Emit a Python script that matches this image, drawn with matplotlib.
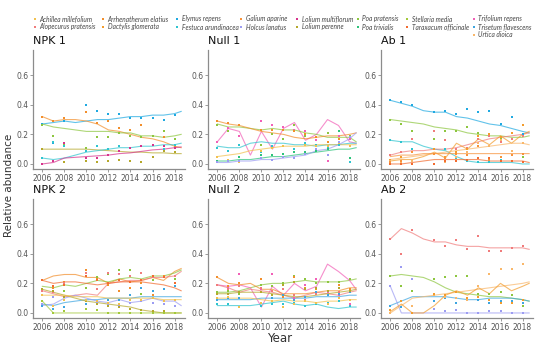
import matplotlib.pyplot as plt

# species and colours (legend order)
species = ["Achillea millefolium", "Alopecurus pratensis", "Arrhenatherum elatius",
           "Dactylis glomerata", "Elymus repens", "Festuca arundinacea", "Galium aparine",
           "Holcus lanatus", "Lolium multiflorum", "Lolium perenne", "Poa pratensis",
           "Poa trivialis", "Stellaria media", "Taraxacum officinale", "Trifolium repens",
           "Trisetum flavescens", "Urtica dioica"]
colours = ["#F2C14E", "#F07C7C", "#F28E2B", "#F39C2C", "#1FA9E1", "#2EC4CF", "#F7923A",
           "#9C9CF2", "#D6338C", "#B5A82B", "#8DC63F", "#2DC37A", "#A3C93A", "#F26B2F",
           "#F25FB7", "#3DA5E0", "#F9B76A"]
col = dict(zip(species, colours))

years_pts = [2006, 2007, 2008, 2010, 2011, 2012, 2013, 2014, 2015, 2016, 2017, 2018]
years_fit = [2006, 2007, 2008, 2009, 2010, 2011, 2012, 2013, 2014, 2015, 2016, 2017, 2018, 2018.6]

# ---- NPK 1
npk1_fit = {
    "Elymus repens": [.27, .28, .29, .28, .29, .30, .30, .31, .32, .32, .33, .33, .34, .355],
    "Arrhenatherum elatius": [.32, .29, .30, .30, .29, .27, .23, .22, .20, .18, .17, .15, .12, .11],
    "Poa pratensis": [.27, .25, .24, .23, .22, .22, .22, .21, .21, .19, .19, .18, .19, .20],
    "Lolium perenne": [.10, .10, .10, .10, .10, .095, .09, .085, .08, .08, .075, .075, .07, .07],
    "Festuca arundinacea": [.04, .03, .04, .06, .08, .09, .10, .11, .11, .12, .12, .13, .13, .14],
    "Lolium multiflorum": [.00, .01, .04, .045, .05, .055, .06, .07, .075, .085, .095, .10, .11, .115],
}
npk1_pts = {
    "Elymus repens": [.27, .14, .29, .40, .36, .34, .34, .31, .31, .31, .30, .33],
    "Arrhenatherum elatius": [.32, .29, .31, .35, .28, .29, .24, .23, .26, .19, .18, .12],
    "Poa pratensis": [.26, .19, .13, .11, .18, .18, .21, .19, .18, .19, .22, .17],
    "Lolium perenne": [.10, .02, .01, .02, .01, .02, .03, .02, .01, .05, .09, .08],
    "Festuca arundinacea": [.04, .15, .12, .09, .12, .10, .12, .11, .12, .13, .10, .13],
    "Lolium multiflorum": [.00, .02, .14, .04, .04, .06, .09, .11, .12, .13, .12, .11],
}

# ---- Null 1
null1_fit = {
    "Trifolium repens": [.15, .24, .22, .06, .22, .10, .24, .28, .16, .20, .30, .26, .15, .14],
    "Poa pratensis": [.27, .25, .25, .24, .23, .24, .23, .23, .21, .20, .18, .18, .18, .15],
    "Arrhenatherum elatius": [.29, .27, .26, .24, .22, .21, .20, .18, .17, .18, .19, .19, .20, .21],
    "Festuca arundinacea": [.12, .11, .11, .14, .15, .14, .14, .13, .13, .12, .13, .13, .14, .14],
    "Achillea millefolium": [.05, .06, .07, .09, .10, .11, .12, .12, .12, .13, .13, .13, .13, .13],
    "Poa trivialis": [.02, .02, .03, .03, .04, .05, .05, .06, .07, .08, .09, .10, .10, .11],
    "Holcus lanatus": [.01, .01, .02, .02, .03, .03, .04, .05, .06, .09, .10, .13, .17, .21],
}
null1_pts = {
    "Trifolium repens": [.15, .24, .19, .29, .26, .25, .23, .22, .16, .02, .19, .17],
    "Poa pratensis": [.26, .22, .26, .13, .20, .17, .26, .19, .18, .21, .22, .19],
    "Arrhenatherum elatius": [.29, .28, .26, .23, .23, .23, .22, .20, .18, .15, .17, .18],
    "Festuca arundinacea": [.11, .09, .13, .08, .12, .12, .10, .14, .13, .11, .13, .01],
    "Achillea millefolium": [.05, .03, .01, .09, .11, .12, .08, .13, .12, .12, .14, .12],
    "Poa trivialis": [.02, .02, .05, .06, .06, .07, .08, .08, .09, .10, .22, .04],
    "Holcus lanatus": [.01, .02, .02, .04, .03, .05, .04, .07, .10, .06, .15, .18],
}

# ---- Ab 1
ab1_fit = {
    "Elymus repens": [.43, .41, .39, .36, .35, .35, .32, .31, .29, .27, .26, .24, .22, .21],
    "Poa pratensis": [.30, .29, .28, .27, .25, .24, .23, .21, .20, .19, .19, .18, .18, .19],
    "Festuca arundinacea": [.16, .15, .15, .12, .10, .09, .05, .02, .01, .01, .01, .01, .00, .00],
    "Alopecurus pratensis": [.06, .08, .09, .09, .10, .10, .11, .13, .15, .17, .18, .19, .20, .21],
    "Dactylis glomerata": [.02, .03, .03, .05, .08, .04, .14, .10, .17, .13, .19, .14, .20, .22],
    "Urtica dioica": [.03, .04, .05, .06, .07, .08, .09, .10, .11, .12, .13, .14, .14, .13],
    "Galium aparine": [.05, .06, .06, .07, .07, .07, .07, .07, .07, .07, .07, .07, .07, .07],
    "Taraxacum officinale": [.00, .00, .01, .02, .03, .03, .03, .03, .03, .02, .02, .02, .02, .01],
}
ab1_pts = {
    "Elymus repens": [.43, .42, .40, .35, .36, .34, .37, .35, .36, .27, .32, .20],
    "Poa pratensis": [.30, .27, .22, .17, .22, .22, .25, .21, .19, .17, .17, .05],
    "Festuca arundinacea": [.16, .15, .10, .10, .10, .04, .02, .01, .01, .03, .02, .01],
    "Alopecurus pratensis": [.06, .08, .17, .22, .16, .10, .11, .17, .19, .15, .17, .19],
    "Dactylis glomerata": [.03, .05, .00, .10, .05, .08, .10, .19, .20, .18, .21, .26],
    "Urtica dioica": [.02, .01, .02, .00, .01, .05, .08, .14, .12, .16, .09, .14],
    "Galium aparine": [.01, .02, .08, .07, .04, .07, .06, .12, .03, .05, .06, .07],
    "Taraxacum officinale": [.00, .00, .00, .00, .02, .02, .03, .04, .04, .02, .02, .01],
}

# ---- NPK 2
npk2_fit = {
    "Arrhenatherum elatius": [.22, .25, .26, .26, .24, .24, .20, .23, .21, .22, .24, .22, .28, .30],
    "Poa pratensis": [.18, .17, .19, .18, .20, .22, .21, .23, .24, .23, .25, .25, .27, .29],
    "Alopecurus pratensis": [.15, .13, .11, .12, .13, .12, .20, .21, .22, .22, .24, .24, .25, .28],
    "Taraxacum officinale": [.22, .20, .21, .21, .20, .19, .20, .21, .21, .21, .20, .19, .17, .15],
    "Trisetum flavescens": [.06, .05, .07, .08, .09, .09, .10, .10, .10, .11, .11, .11, .11, .11],
    "Holcus lanatus": [.05, .06, .10, .12, .10, .08, .07, .09, .07, .08, .10, .08, .08, .05],
    "Lolium perenne": [.16, .14, .12, .10, .08, .07, .06, .05, .04, .02, .01, .00, .00, .00],
    "Achillea millefolium": [.12, .12, .12, .11, .11, .11, .10, .10, .10, .10, .10, .09, .09, .09],
    "Stellaria media": [.08, .00, .00, .00, .00, .00, .00, .00, .00, .00, .00, .00, .00, .00],
}
npk2_pts = {
    "Arrhenatherum elatius": [.22, .17, .21, .29, .23, .19, .15, .17, .20, .12, .25, .20],
    "Poa pratensis": [.16, .18, .15, .17, .24, .26, .29, .29, .13, .22, .24, .23],
    "Alopecurus pratensis": [.15, .14, .20, .27, .16, .27, .26, .25, .27, .24, .16, .25],
    "Taraxacum officinale": [.22, .18, .19, .25, .22, .20, .22, .21, .22, .25, .24, .20],
    "Trisetum flavescens": [.05, .03, .04, .06, .08, .09, .09, .12, .17, .15, .16, .18],
    "Holcus lanatus": [.06, .11, .11, .08, .07, .06, .05, .07, .08, .07, .06, .05],
    "Lolium perenne": [.16, .15, .11, .08, .06, .05, .04, .03, .02, .01, .01, .00],
    "Achillea millefolium": [.12, .05, .09, .09, .08, .07, .06, .09, .09, .10, .08, .09],
    "Stellaria media": [.08, .00, .01, .03, .02, .00, .00, .00, .00, .00, .00, .00],
}

# ---- Null 2
null2_fit = {
    "Poa pratensis": [.14, .14, .15, .17, .19, .20, .20, .21, .22, .21, .21, .21, .22, .23],
    "Trifolium repens": [.19, .18, .19, .17, .04, .18, .12, .20, .15, .18, .33, .28, .22, .16],
    "Arrhenatherum elatius": [.24, .20, .19, .20, .16, .16, .13, .13, .13, .14, .15, .15, .17, .17],
    "Alopecurus pratensis": [.19, .17, .14, .16, .15, .14, .12, .10, .12, .14, .13, .12, .14, .15],
    "Trisetum flavescens": [.09, .09, .09, .09, .10, .10, .10, .10, .10, .11, .11, .11, .12, .12],
    "Festuca arundinacea": [.05, .05, .05, .05, .06, .07, .08, .06, .05, .06, .04, .03, .04, .04],
    "Achillea millefolium": [.10, .10, .10, .10, .09, .08, .09, .08, .08, .07, .08, .08, .09, .09],
    "Lolium perenne": [.13, .13, .14, .14, .14, .13, .12, .11, .11, .12, .13, .14, .15, .16],
}
null2_pts = {
    "Poa pratensis": [.14, .15, .13, .19, .18, .20, .25, .23, .20, .21, .21, .23],
    "Trifolium repens": [.19, .17, .26, .16, .26, .12, .10, .19, .23, .14, .12, .06],
    "Arrhenatherum elatius": [.24, .18, .20, .23, .15, .11, .24, .17, .16, .15, .19, .16],
    "Alopecurus pratensis": [.19, .16, .18, .17, .15, .16, .12, .09, .13, .12, .14, .15],
    "Trisetum flavescens": [.09, .10, .10, .07, .10, .12, .09, .11, .14, .12, .13, .14],
    "Festuca arundinacea": [.06, .06, .04, .05, .06, .06, .07, .05, .06, .07, .08, .05],
    "Achillea millefolium": [.10, .11, .04, .07, .08, .04, .06, .08, .07, .06, .10, .09],
    "Lolium perenne": [.13, .13, .14, .14, .12, .19, .21, .16, .17, .15, .17, .15],
}

# ---- Ab 2
ab2_fit = {
    "Alopecurus pratensis": [.50, .57, .54, .50, .48, .48, .46, .45, .45, .44, .44, .44, .44, .43],
    "Poa pratensis": [.25, .26, .25, .24, .21, .17, .14, .13, .12, .11, .11, .10, .09, .08],
    "Trisetum flavescens": [.05, .08, .11, .11, .11, .11, .10, .09, .09, .10, .10, .10, .09, .08],
    "Holcus lanatus": [.18, .00, .00, .00, .00, .00, .00, .00, .00, .00, .00, .00, .00, .00],
    "Urtica dioica": [.00, .05, .10, .11, .12, .13, .14, .15, .16, .17, .18, .19, .20, .21],
    "Dactylis glomerata": [.01, .06, .00, .00, .05, .12, .15, .12, .17, .13, .20, .15, .18, .20],
}
ab2_pts = {
    "Alopecurus pratensis": [.50, .40, .56, .49, .45, .49, .43, .52, .42, .42, .44, .45],
    "Poa pratensis": [.25, .18, .15, .23, .24, .25, .25, .13, .13, .14, .12, .05],
    "Trisetum flavescens": [.05, .04, .00, .08, .10, .07, .09, .09, .07, .08, .08, .07],
    "Holcus lanatus": [.18, .31, .23, .03, .01, .02, .00, .00, .01, .01, .00, .00],
    "Urtica dioica": [.00, .08, .05, .12, .11, .10, .09, .18, .26, .30, .30, .33],
    "Dactylis glomerata": [.02, .08, .00, .13, .12, .14, .10, .11, .09, .07, .07, .09],
}

panels = [
    ("NPK 1", npk1_fit, npk1_pts), ("Null 1", null1_fit, null1_pts), ("Ab 1", ab1_fit, ab1_pts),
    ("NPK 2", npk2_fit, npk2_pts), ("Null 2", null2_fit, null2_pts), ("Ab 2", ab2_fit, ab2_pts),
]

W, H = 550, 346
fig = plt.figure(figsize=(W / 100, H / 100), dpi=100)

lefts = [33, 208, 381]
tops = [50, 199]
aw, ah = 152, 119

for i, (title, fit, pts) in enumerate(panels):
    r, c = divmod(i, 3)
    ax = fig.add_axes([lefts[c] / W, 1 - (tops[r] + ah) / H, aw / W, ah / H])
    for sp, vals in fit.items():
        ax.plot(years_fit, vals, color=col[sp], lw=0.8, alpha=0.7)
    for sp, vals in pts.items():
        ax.scatter(years_pts, vals, s=3, marker="s", color=col[sp], lw=0, zorder=3)
    ax.set_xlim(2005.15, 2018.95)
    ax.set_ylim(-0.034, 0.77)
    ax.set_xticks(range(2006, 2019, 2))
    ax.set_yticks([0.0, 0.2, 0.4, 0.6])
    ax.set_yticklabels(["0.0", "0.2", "0.4", "0.6"])
    for s in ["top", "right"]:
        ax.spines[s].set_visible(False)
    for s in ["left", "bottom"]:
        ax.spines[s].set_color("#8c8c8c")
        ax.spines[s].set_linewidth(0.9)
    ax.tick_params(labelsize=5.5, labelcolor="#555555", color="#8c8c8c", length=2, width=0.6, pad=1.5)
    ax.set_title(title, loc="left", fontsize=8, pad=4, color="#111111")

fig.text(280 / W, 1 - 338 / H, "Year", ha="center", va="center", fontsize=8.5, color="#333333")
fig.text(9 / W, 1 - 185 / H, "Relative abundance", ha="center", va="center", rotation=90,
         fontsize=7.5, color="#333333")

# legend, laid out in columns as in the original
leg_cols = [species[0:2], species[2:4], species[4:6], species[6:8], species[8:10],
            species[10:12], species[12:14], species[14:17]]
mark_x = [35, 103, 177, 241, 297, 358, 407, 474]
row_y = [19, 27, 34.5]
lax = fig.add_axes([0, 0, 1, 1])
lax.set_xlim(0, W)
lax.set_ylim(H, 0)
lax.axis("off")
for x, names in zip(mark_x, leg_cols):
    for j, sp in enumerate(names):
        lax.scatter([x], [row_y[j]], s=3, marker="s", color=col[sp], lw=0)
        lax.text(x + 4.5, row_y[j], sp, fontsize=4.7, style="italic", family="Lato",
                 color="#444444", va="center", ha="left")

fig.savefig("out.png", dpi=100)
